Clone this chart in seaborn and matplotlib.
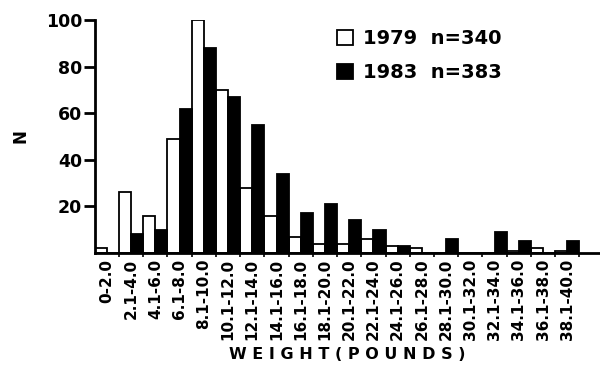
import matplotlib
matplotlib.use("Agg")
import matplotlib.pyplot as plt
import seaborn as sns
import pandas as pd
import numpy as np

categories = ["0-2.0", "2.1-4.0", "4.1-6.0", "6.1-8.0", "8.1-10.0", "10.1-12.0",
              "12.1-14.0", "14.1-16.0", "16.1-18.0", "18.1-20.0", "20.1-22.0",
              "22.1-24.0", "24.1-26.0", "26.1-28.0", "28.1-30.0", "30.1-32.0",
              "32.1-34.0", "34.1-36.0", "36.1-38.0", "38.1-40.0"]
n1979 = [2, 26, 16, 49, 100, 70, 28, 16, 7, 4, 4, 6, 3, 2, 0, 0, 0, 1, 2, 1]
n1983 = [0, 8, 10, 62, 88, 67, 55, 34, 17, 21, 14, 10, 3, 0, 6, 0, 9, 5, 0, 5]
series_labels = ["1979  n=340", "1983  n=383"]

df = pd.DataFrame({
    "cat": categories * 2,
    "N": n1979 + n1983,
    "series": [series_labels[0]] * len(categories) + [series_labels[1]] * len(categories),
})

sns.set_style("white")
plt.rcParams["font.family"] = ["DejaVu Sans"]
plt.rcParams["text.color"] = "black"
plt.rcParams["xtick.color"] = "black"
plt.rcParams["ytick.color"] = "black"
plt.rcParams["axes.labelcolor"] = "black"
fig = plt.figure(figsize=(6, 3.72), dpi=100)
ax = fig.add_axes([0.158, 0.32, 0.842, 0.626])

sns.barplot(data=df, x="cat", y="N", hue="series", order=categories,
            hue_order=series_labels, palette=["white", "black"], width=1.0,
            edgecolor="black", linewidth=1.3, saturation=1, ax=ax, dodge=True)

ax.set_ylim(0, 100)
ax.set_xlim(-0.5, 20.35)
ax.set_yticks([20, 40, 60, 80, 100])
ax.set_yticklabels(["20", "40", "60", "80", "100"], fontsize=12.5, fontweight="bold")
ax.set_xticks(range(len(categories)))
ax.set_xticklabels(categories, rotation=90, fontsize=11, fontweight="bold")
ax.set_xticks(np.arange(len(categories)) + 0.5, minor=True)
ax.tick_params(axis="y", direction="out", length=8, width=2, left=True, pad=1)
ax.tick_params(axis="x", which="major", length=0, pad=4)
ax.tick_params(axis="x", which="minor", direction="out", length=3, width=1.2, bottom=True)
for s in ["top", "right"]:
    ax.spines[s].set_visible(False)
for s in ["left", "bottom"]:
    ax.spines[s].set_linewidth(2)
    ax.spines[s].set_color("black")
ax.set_xlabel("W E I G H T ( P O U N D S )", fontsize=11.5, fontweight="bold", labelpad=5)
ax.set_ylabel("N", fontsize=12, fontweight="bold", labelpad=12)

leg = ax.legend(loc="upper left", bbox_to_anchor=(0.445, 1.035), frameon=False,
                prop={"size": 14, "weight": "bold"}, handlelength=0.8,
                handleheight=0.8, handletextpad=0.55, labelspacing=0.75)

fig.savefig("out.png", dpi=100, facecolor="white")
